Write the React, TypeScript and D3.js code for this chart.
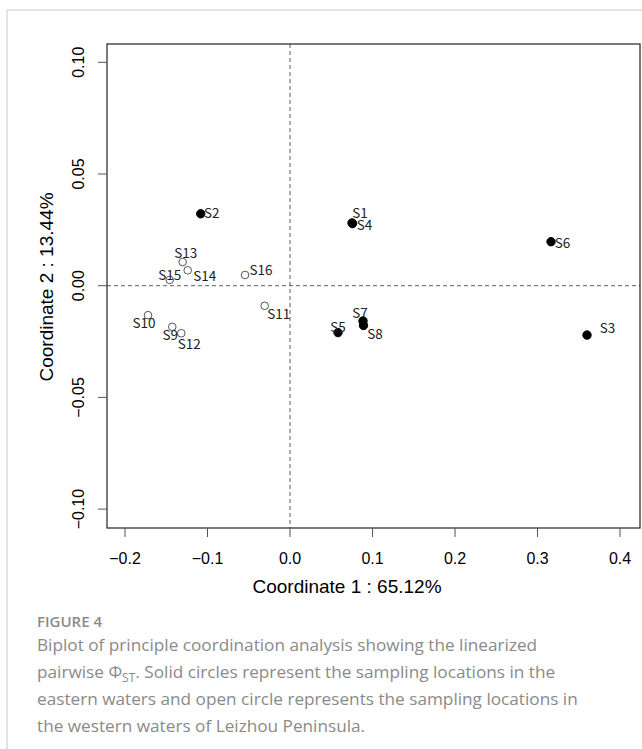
import React, { useRef, useEffect } from "react";
import * as d3 from "d3";

const sites = ["S1", "S2", "S3", "S4", "S5", "S6", "S7", "S8", "S9", "S10", "S11", "S12", "S13", "S14", "S15", "S16"];
const coord1 = [0.0752, -0.1082, 0.36, 0.0758, 0.0582, 0.3164, 0.0885, 0.0891, -0.1427, -0.1721, -0.0307, -0.1318, -0.1301, -0.124, -0.1458, -0.0545];
const coord2 = [0.0281, 0.0322, -0.0221, 0.0278, -0.021, 0.0197, -0.0158, -0.0178, -0.0184, -0.0132, -0.009, -0.0213, 0.0106, 0.0069, 0.0026, 0.0048];
// eastern waters = solid, western = open
const eastern = [true, true, true, true, true, true, true, true, false, false, false, false, false, false, false, false];
const xTicks = [-0.2, -0.1, 0.0, 0.1, 0.2, 0.3, 0.4];
const yTicks = [0.1, 0.05, 0.0, -0.05, -0.1];

// label placement (text centre relative to point, px)
const labelOffset: Record<string, [number, number]> = {
  S1: [8, -11], S2: [11, -2], S3: [20.5, -8], S4: [12, 0], S5: [0, -7], S6: [11.5, 0],
  S7: [-3, -9], S8: [11.5, 8], S9: [-2, 7], S10: [-4, 7], S11: [14, 7], S12: [8, 10],
  S13: [3, -10], S14: [17, 5], S15: [0, -6], S16: [16, -6],
};

const captionLines = [
  "Biplot of principle coordination analysis showing the linearized",
  null,
  "eastern waters and open circle represents the sampling locations in",
  "the western waters of Leizhou Peninsula.",
];

export default function App() {
  const ref = useRef<SVGSVGElement>(null);

  useEffect(() => {
    document.body.style.margin = "0";
    const svg = d3.select(ref.current);
    svg.selectAll("*").remove();

    const left = 107, right = 640, top = 44, bottom = 528;
    const x = d3.scaleLinear().domain([-0.2, 0.4]).range([125, 620]);
    const y = d3.scaleLinear().domain([-0.05, 0.05]).range([397.4, 174]);
    const tickFont = "'Liberation Sans', Arial, sans-serif";

    // card frame
    svg.append("path").attr("d", "M7,749 V10 H642").attr("fill", "none").attr("stroke", "#c8c8c8").attr("stroke-width", 1);

    // reference lines
    svg.append("line").attr("x1", left).attr("x2", right).attr("y1", y(0)).attr("y2", y(0))
      .attr("stroke", "#333").attr("stroke-dasharray", "4,3").attr("stroke-width", 0.8);
    svg.append("line").attr("x1", x(0)).attr("x2", x(0)).attr("y1", top).attr("y2", bottom)
      .attr("stroke", "#333").attr("stroke-dasharray", "4,3").attr("stroke-width", 0.8);

    // box
    svg.append("rect").attr("x", left).attr("y", top).attr("width", right - left).attr("height", bottom - top)
      .attr("fill", "none").attr("stroke", "#222").attr("stroke-width", 1.2);

    // x axis
    const gx = svg.append("g");
    xTicks.forEach((t) => {
      gx.append("line").attr("x1", x(t)).attr("x2", x(t)).attr("y1", bottom).attr("y2", bottom + 9).attr("stroke", "#555");
      gx.append("text").attr("x", x(t)).attr("y", 558).attr("text-anchor", "middle").attr("dominant-baseline", "central")
        .attr("font-family", tickFont).attr("font-size", 16).attr("fill", "#000")
        .text(t < 0 ? "\u2212" + Math.abs(t).toFixed(1) : t.toFixed(1));
    });

    // y axis
    const gy = svg.append("g");
    yTicks.forEach((t) => {
      gy.append("line").attr("x1", left - 9).attr("x2", left).attr("y1", y(t)).attr("y2", y(t)).attr("stroke", "#555");
      gy.append("text").attr("transform", `translate(78,${y(t)}) rotate(-90)`).attr("text-anchor", "middle")
        .attr("dominant-baseline", "central").attr("font-family", tickFont).attr("font-size", 16).attr("fill", "#000")
        .text(t < 0 ? "\u2212" + Math.abs(t).toFixed(2) : t.toFixed(2));
    });

    svg.append("text").attr("x", 347).attr("y", 586).attr("text-anchor", "middle").attr("dominant-baseline", "central")
      .attr("font-family", tickFont).attr("font-size", 19).attr("fill", "#000").text("Coordinate 1 : 65.12%");
    svg.append("text").attr("transform", `translate(46,287) rotate(-90)`).attr("text-anchor", "middle")
      .attr("dominant-baseline", "central").attr("font-family", tickFont).attr("font-size", 19).attr("fill", "#000")
      .text("Coordinate 2 : 13.44%");

    // points
    const pts = svg.append("g");
    sites.forEach((s, i) => {
      pts.append("circle").attr("cx", x(coord1[i])).attr("cy", y(coord2[i])).attr("r", eastern[i] ? 4.2 : 3.8)
        .attr("fill", eastern[i] ? "#000" : "none").attr("stroke", eastern[i] ? "#000" : "#555").attr("stroke-width", 1);
    });
    sites.forEach((s, i) => {
      const [dx, dy] = labelOffset[s];
      pts.append("text").attr("x", x(coord1[i]) + dx).attr("y", y(coord2[i]) + dy).attr("text-anchor", "middle")
        .attr("dominant-baseline", "central").attr("font-family", "'Noto Sans CJK SC', sans-serif")
        .attr("font-size", 13.5).attr("fill", "#222").text(s);
    });

    // caption
    const capFont = "'Open Sans', 'Noto Sans', sans-serif";
    const capX = 37;
    svg.append("text").attr("x", capX).attr("y", 627).attr("font-family", capFont).attr("font-size", 15)
      .attr("font-weight", 600).attr("fill", "#8a8a8a").text("FIGURE 4");
    const lineY = [651, 678, 705, 732];
    captionLines.forEach((l, i) => {
      const t = svg.append("text").attr("x", capX).attr("y", lineY[i]).attr("font-family", capFont)
        .attr("font-size", 17.2).attr("fill", "#8a8a8a");
      if (l) {
        t.text(l);
      } else {
        t.append("tspan").text("pairwise \u03A6");
        t.append("tspan").attr("font-size", 12).attr("dy", 4).text("ST");
        t.append("tspan").attr("dy", -4).text(". Solid circles represent the sampling locations in the");
      }
    });
  }, []);

  return <svg ref={ref} width={642} height={749} style={{ display: "block" }}></svg>;
}
